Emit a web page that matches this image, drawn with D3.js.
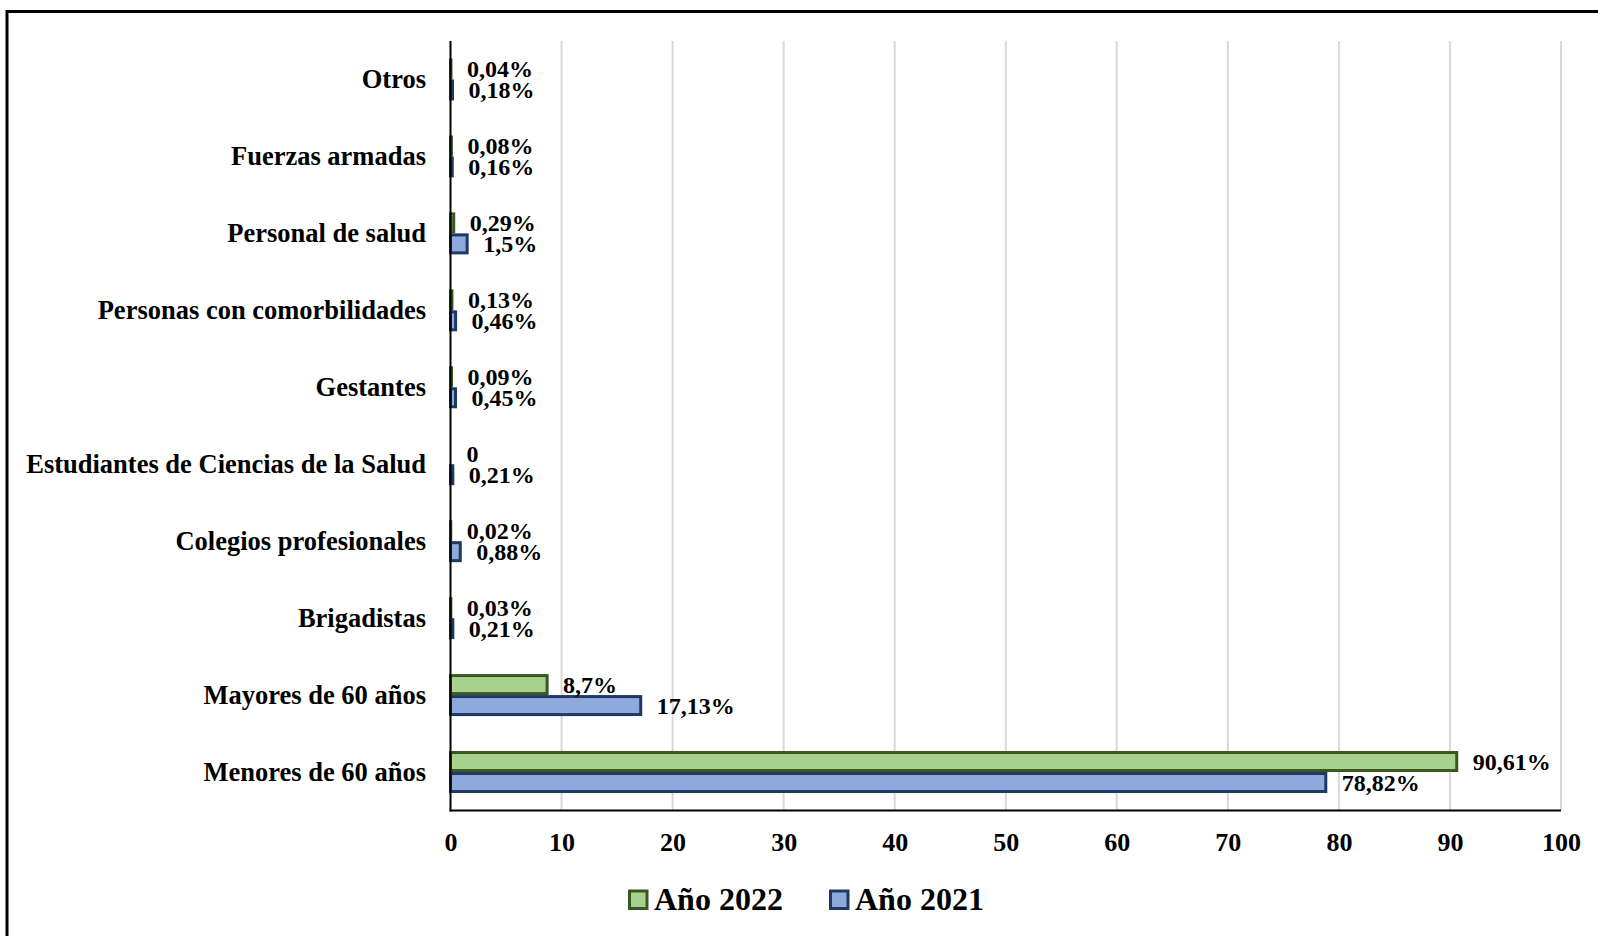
<!DOCTYPE html>
<html>
<head>
<meta charset="utf-8">
<script src="https://cdn.jsdelivr.net/npm/d3@7"></script>
<style>
  html, body { margin: 0; padding: 0; background: #fff; }
  svg { display: block; }
  text { font-family: "Liberation Serif", "Times New Roman", serif; font-weight: bold; fill: #000; }
</style>
</head>
<body>
<svg id="chart" width="1598" height="936"></svg>
<script>
// Grupos de vacunación, de arriba hacia abajo
const categories = [
  "Otros",
  "Fuerzas armadas",
  "Personal de salud",
  "Personas con comorbilidades",
  "Gestantes",
  "Estudiantes de Ciencias de la Salud",
  "Colegios profesionales",
  "Brigadistas",
  "Mayores de 60 años",
  "Menores de 60 años"
];
const values2022 = [0.04, 0.08, 0.29, 0.13, 0.09, 0, 0.02, 0.03, 8.7, 90.61];
const values2021 = [0.18, 0.16, 1.5, 0.46, 0.45, 0.21, 0.88, 0.21, 17.13, 78.82];
const seriesNames = ["Año 2022", "Año 2021"];
const xTicks = [0, 10, 20, 30, 40, 50, 60, 70, 80, 90, 100];

const series = [
  { name: seriesNames[0], values: values2022, fill: "#a9d18e", stroke: "#385723" },
  { name: seriesNames[1], values: values2021, fill: "#8eaadc", stroke: "#1f3864" }
];

const svg = d3.select("#chart");

// Marco exterior
svg.append("path")
  .attr("d", "M7,940 V11.5 H1602")
  .attr("fill", "none")
  .attr("stroke", "#000")
  .attr("stroke-width", 3);

const plot = { left: 450.5, right: 1561, top: 41, bottom: 810.5 };

const x = d3.scaleLinear().domain([0, 100]).range([plot.left, plot.right]);
const y = d3.scaleBand().domain(categories).range([plot.top, plot.bottom]).padding(0);
const barH = 21;
const ySub = d3.scaleBand()
  .domain(seriesNames)
  .range([y.bandwidth() / 2 - barH, y.bandwidth() / 2 + barH]);

// Líneas de cuadrícula verticales
svg.append("g")
  .selectAll("line")
  .data(xTicks.filter(t => t > 0))
  .join("line")
  .attr("x1", d => x(d)).attr("x2", d => x(d))
  .attr("y1", plot.top).attr("y2", plot.bottom)
  .attr("stroke", "#d9d9d9")
  .attr("stroke-width", 2);

// Barras (primero 2021 para que el borde de 2022 quede encima)
const fmt = v => v === 0 ? "0" : String(v).replace(".", ",") + "%";
const bars = svg.append("g");
[series[1], series[0]].forEach(s => {
  bars.append("g")
    .selectAll("rect")
    .data(categories.map((c, i) => ({ c, v: s.values[i] })))
    .join("rect")
    .attr("x", x(0))
    .attr("y", d => y(d.c) + ySub(s.name) + 1.5)
    .attr("width", d => x(d.v) - x(0))
    .attr("height", ySub.bandwidth() - 3)
    .attr("fill", s.fill)
    .attr("stroke", s.stroke)
    .attr("stroke-width", 3);
});

// Etiquetas de valor
series.forEach(s => {
  svg.append("g")
    .selectAll("text")
    .data(categories.map((c, i) => ({ c, v: s.values[i] })))
    .join("text")
    .attr("x", d => x(d.v) + 16)
    .attr("y", d => y(d.c) + ySub(s.name) + ySub.bandwidth() / 2)
    .attr("dy", "0.34em")
    .attr("font-size", 24)
    .text(d => fmt(d.v));
});

// Eje Y: etiquetas de categoría
svg.append("g")
  .selectAll("text")
  .data(categories)
  .join("text")
  .attr("x", 426)
  .attr("y", d => y(d) + y.bandwidth() / 2)
  .attr("dy", "0.34em")
  .attr("text-anchor", "end")
  .attr("font-size", 26.5)
  .text(d => d);

// Eje X
const xAxis = svg.append("g")
  .attr("transform", `translate(0,${plot.bottom})`)
  .call(d3.axisBottom(x).tickValues(xTicks).tickSize(0).tickPadding(0).tickFormat(d3.format("d")));
xAxis.select(".domain").remove();
xAxis.selectAll("text")
  .attr("y", 31.5)
  .attr("dy", "0.34em")
  .attr("font-size", 26)
  .style("font-family", "'Liberation Serif', 'Times New Roman', serif")
  .style("font-weight", "bold")
  .attr("fill", "#000");

// Líneas de eje
svg.append("line")
  .attr("x1", plot.left).attr("x2", plot.left)
  .attr("y1", plot.top).attr("y2", plot.bottom + 1)
  .attr("stroke", "#000").attr("stroke-width", 2);
svg.append("line")
  .attr("x1", plot.left - 1).attr("x2", plot.right)
  .attr("y1", plot.bottom).attr("y2", plot.bottom)
  .attr("stroke", "#000").attr("stroke-width", 2);

// Leyenda
const legendX = [629.5, 830.5];
const legend = svg.append("g");
series.forEach((s, i) => {
  legend.append("rect")
    .attr("x", legendX[i]).attr("y", 891)
    .attr("width", 17.5).attr("height", 17.5)
    .attr("fill", s.fill)
    .attr("stroke", s.stroke)
    .attr("stroke-width", 3);
  legend.append("text")
    .attr("x", legendX[i] + 24.5)
    .attr("y", 910)
    .attr("font-size", 32)
    .text(s.name);
});
</script>
</body>
</html>
